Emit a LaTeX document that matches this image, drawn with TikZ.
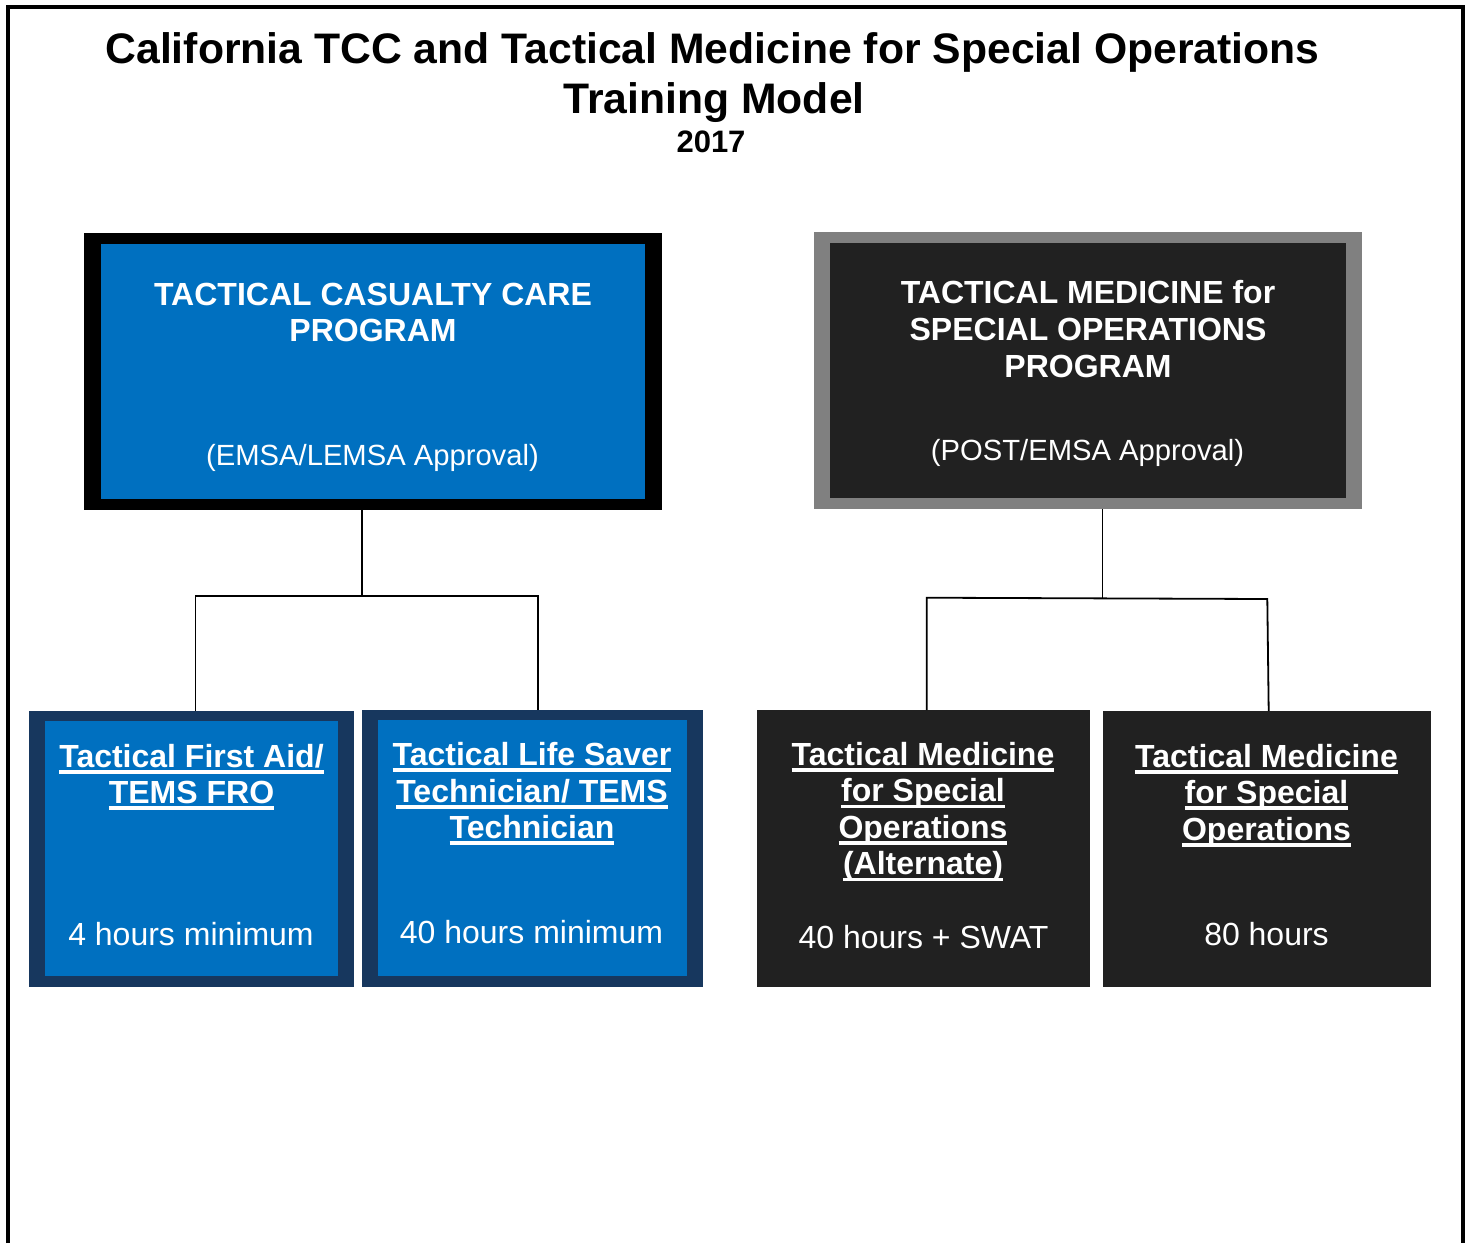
\documentclass[tikz,border=0pt]{standalone}
\usepackage{fontspec}
\setmainfont{Liberation Sans}
\definecolor{tblue}{HTML}{0070C0}
\definecolor{tnavy}{HTML}{17375E}
\definecolor{tdark}{HTML}{212121}
\definecolor{tgray}{HTML}{808080}
\newcommand\ulin[1]{\setbox0\hbox{#1}\rlap{\vrule width\wd0 height -3pt depth 6.5pt}\box0}
\tikzset{
  boxn/.style={rectangle, inner sep=0pt, outer sep=0pt, anchor=north west, draw=none},
  lbl/.style={anchor=base, inner sep=0pt, outer sep=0pt, text=white},
  hd/.style={lbl, font=\bfseries\fontsize{32}{36}\selectfont},
  rg/.style={lbl, font=\fontsize{32}{36}\selectfont},
  ap/.style={lbl, font=\fontsize{29.2}{34}\selectfont},
  ttl/.style={anchor=base, inner sep=0pt, outer sep=0pt, text=black},
  conn/.style={draw=black, line width=1.8pt},
}
\begin{document}
\begin{tikzpicture}[x=1pt,y=-1pt]
\useasboundingbox (0,0) rectangle (1469,1243);
\fill[white] (0,0) rectangle (1469,1243);
% outer frame
\draw[line width=4.6pt] (8,1243) -- (8,7) -- (1463,7) -- (1463,1243);
% title
\node[ttl, font=\bfseries\fontsize{42.7}{48}\selectfont] (title1) at (712.5,63) {California TCC and Tactical Medicine for Special Operations};
\node[ttl, font=\bfseries\fontsize{42.7}{48}\selectfont] (title2) at (714,113) {Training Model};
\node[ttl, font=\bfseries\fontsize{31}{36}\selectfont] (title3) at (711,152) {2017};
% top boxes
\node[boxn, fill=black, minimum width=578pt, minimum height=277pt] (tcco) at (84,233) {};
\node[boxn, fill=tblue, minimum width=544pt, minimum height=255pt] (tcci) at (101,244) {};
\node[boxn, fill=tgray, minimum width=548pt, minimum height=277pt] (tmo) at (814,232) {};
\node[boxn, fill=tdark, minimum width=516pt, minimum height=255pt] (tmi) at (830,243) {};
% bottom boxes
\node[boxn, fill=tnavy, minimum width=325pt, minimum height=276pt] (b1o) at (29,711) {};
\node[boxn, fill=tblue, minimum width=293pt, minimum height=255pt] (b1i) at (45,721) {};
\node[boxn, fill=tnavy, minimum width=341pt, minimum height=277pt] (b2o) at (362,710) {};
\node[boxn, fill=tblue, minimum width=309pt, minimum height=256pt] (b2i) at (378,720) {};
\node[boxn, fill=tdark, minimum width=333pt, minimum height=277pt] (b3) at (757,710) {};
\node[boxn, fill=tdark, minimum width=328pt, minimum height=276pt] (b4) at (1103,711) {};
% texts top-left
\node[hd] (tc1) at (373,305) {TACTICAL CASUALTY CARE};
\node[hd] (tc2) at (373,341) {PROGRAM};
\node[ap] (tc3) at (372.5,465) {(EMSA/LEMSA Approval)};
% texts top-right
\node[hd] (tm1) at (1088,303) {TACTICAL MEDICINE for};
\node[hd] (tm2) at (1088,340) {SPECIAL OPERATIONS};
\node[hd] (tm3) at (1088,377) {PROGRAM};
\node[ap] (tm4) at (1087.5,460) {(POST/EMSA Approval)};
% box 1
\node[hd] (b1t1) at (191.5,767) {\ulin{Tactical First Aid/}};
\node[hd] (b1t2) at (191.5,803) {\ulin{TEMS FRO}};
\node[rg] (b1t3) at (191,945) {4 hours minimum};
% box 2
\node[hd] (b2t1) at (532,765) {\ulin{Tactical Life Saver}};
\node[hd] (b2t2) at (532,802) {\ulin{Technician/ TEMS}};
\node[hd] (b2t3) at (532,838) {\ulin{Technician}};
\node[rg] (b2t4) at (531.5,943) {40 hours minimum};
% box 3
\node[hd] (b3t1) at (923,765) {\ulin{Tactical Medicine}};
\node[hd] (b3t2) at (923,801.5) {\ulin{for Special}};
\node[hd] (b3t3) at (923,838) {\ulin{Operations}};
\node[hd] (b3t4) at (923,874.5) {\ulin{(Alternate)}};
\node[rg] (b3t5) at (923.5,948) {40 hours + SWAT};
% box 4
\node[hd] (b4t1) at (1266.5,767) {\ulin{Tactical Medicine}};
\node[hd] (b4t2) at (1266.5,803) {\ulin{for Special}};
\node[hd] (b4t3) at (1266.5,840) {\ulin{Operations}};
\node[rg] (b4t4) at (1266.5,945) {80 hours};
% connectors left
\coordinate (lj) at (362,596);
\coordinate (la) at (195.5,596);
\coordinate (lb) at (538,596);
\draw[conn] (lj |- tcco.south) -- (lj);
\draw[conn] (la |- b1o.north) -- (la) -- (lb) -- (lb |- b2o.north);
% connectors right
\coordinate (rj) at (1102.5,598);
\coordinate (ra) at (926.7,597.7);
\coordinate (rb) at (1267.3,599);
\coordinate (rbb) at (1268.7,711);
\draw[conn] (rj |- tmo.south) -- (rj);
\draw[conn] (ra |- b3.north) -- (ra) -- (rb) -- (rbb);
\end{tikzpicture}
\end{document}
